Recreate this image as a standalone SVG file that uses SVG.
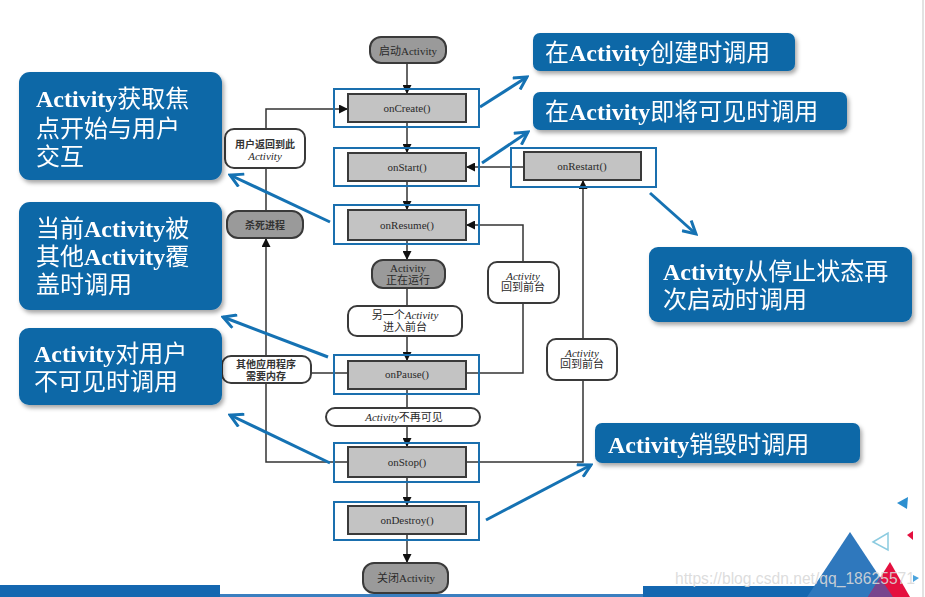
<svg xmlns="http://www.w3.org/2000/svg" width="925" height="597" viewBox="0 0 925 597">
<defs>
<style>
.t{font-family:"Liberation Serif","Noto Sans CJK SC",serif;font-size:11px;fill:#2a2a2a;text-anchor:middle}
.cn{font-family:"Noto Sans CJK SC","Liberation Sans",sans-serif;font-weight:bold;font-size:10px;fill:#333;text-anchor:middle}
.it{font-family:"Liberation Serif",serif;font-style:italic;font-weight:normal}
.box{fill:#c3c3c3;stroke:#3a3a3a;stroke-width:2}
.pill{fill:#9a9a9a;stroke:#3a3a3a;stroke-width:2}
.wbox{fill:#fff;stroke:#3a3a3a;stroke-width:2}
.hl{fill:none;stroke:#1a6fae;stroke-width:2}
.con{fill:none;stroke:#333;stroke-width:1.5}
.bl{fill:none;stroke:#1572b3;stroke-width:3}
.call{fill:#0d67a7}
.ct{font-family:"Noto Sans CJK SC","Liberation Sans",sans-serif;font-size:24px;fill:#fff}
.ca{font-family:"Liberation Serif",serif;font-weight:bold}
</style>
<marker id="ka" viewBox="0 0 10 10" refX="10" refY="5" markerWidth="9" markerHeight="9" markerUnits="userSpaceOnUse" orient="auto">
<path d="M0,0 L10,5 L0,10 Z" fill="#111"/>
</marker>
<marker id="ba" viewBox="0 0 14 14" refX="12" refY="7" markerWidth="16" markerHeight="16" markerUnits="userSpaceOnUse" orient="auto">
<path d="M1,1 L12,7 L1,13" fill="none" stroke="#1572b3" stroke-width="2.6"/>
</marker>
<filter id="sh" x="-10%" y="-20%" width="125%" height="150%">
<feDropShadow dx="2" dy="3" stdDeviation="2" flood-color="#000" flood-opacity="0.35"/>
</filter>
</defs>
<rect width="925" height="597" fill="#fff"/>
<line x1="923" y1="0" x2="923" y2="597" stroke="#d8d8d8" stroke-width="1.5"/>

<g id="connectors">
<path class="con" d="M407,63 V94" marker-end="url(#ka)"/>
<path class="con" d="M407,122 V153" marker-end="url(#ka)"/>
<path class="con" d="M407,181 V210" marker-end="url(#ka)"/>
<path class="con" d="M407,240 V260" marker-end="url(#ka)"/>
<path class="con" d="M407,288 V306"/>
<path class="con" d="M407,336 V361" marker-end="url(#ka)"/>
<path class="con" d="M407,389 V408"/>
<path class="con" d="M407,426 V447" marker-end="url(#ka)"/>
<path class="con" d="M407,477 V506" marker-end="url(#ka)"/>
<path class="con" d="M407,534 V563" marker-end="url(#ka)"/>
<path class="con" d="M266,129 V109 H348" marker-end="url(#ka)"/>
<path class="con" d="M266,211 V168"/>
<path class="con" d="M266,356 V238" marker-end="url(#ka)"/>
<path class="con" d="M348,462 H266 V383"/>
<path class="con" d="M348,373 H311"/>
<path class="con" d="M466,373 H523 V225 H466" marker-end="url(#ka)"/>
<path class="con" d="M466,462 H583 V180" marker-end="url(#ka)"/>
<path class="con" d="M524,167 H466" marker-end="url(#ka)"/>
<path class="bl" d="M480,107 L527,77" marker-end="url(#ba)"/>
<path class="bl" d="M482,163 L528,132" marker-end="url(#ba)"/>
<path class="bl" d="M650,193 L696,234" marker-end="url(#ba)"/>
<path class="bl" d="M330,222 L230,175" marker-end="url(#ba)"/>
<path class="bl" d="M328,357 L223,317" marker-end="url(#ba)"/>
<path class="bl" d="M330,463 L230,415" marker-end="url(#ba)"/>
<path class="bl" d="M486,520 L591,465" marker-end="url(#ba)"/>
</g>

<g id="start"><rect class="pill" x="370" y="37" width="76" height="26" rx="11"/><text class="t" x="408" y="55">启动Activity</text></g>
<g id="onCreate"><rect class="hl" x="334" y="89" width="145" height="38"/><rect class="box" x="348" y="94" width="118" height="28"/><text class="t" x="407" y="112">onCreate()</text></g>
<g id="onStart"><rect class="hl" x="334" y="148" width="145" height="38"/><rect class="box" x="348" y="153" width="118" height="28"/><text class="t" x="407" y="171">onStart()</text></g>
<g id="onResume"><rect class="hl" x="334" y="205" width="145" height="39"/><rect class="box" x="348" y="210" width="118" height="30"/><text class="t" x="407" y="229">onResume()</text></g>
<g id="running"><rect class="pill" x="372" y="260" width="73" height="28" rx="11"/><text class="t" x="408" y="272">Activity<tspan x="408" dy="12">正在运行</tspan></text></g>
<g id="another"><rect class="wbox" x="348" y="306" width="114" height="30" rx="9"/><text class="t" x="405" y="319">另一个<tspan class="it">Activity</tspan><tspan x="405" dy="12">进入前台</tspan></text></g>
<g id="onPause"><rect class="hl" x="334" y="355" width="145" height="39"/><rect class="box" x="348" y="361" width="118" height="28"/><text class="t" x="407" y="378">onPause()</text></g>
<g id="invisible"><rect class="wbox" x="326" y="408" width="154" height="18" rx="9"/><text class="t" x="404" y="421"><tspan class="it">Activity</tspan>不再可见</text></g>
<g id="onStop"><rect class="hl" x="334" y="443" width="145" height="39"/><rect class="box" x="348" y="447" width="118" height="30"/><text class="t" x="407" y="466">onStop()</text></g>
<g id="onDestroy"><rect class="hl" x="334" y="502" width="145" height="38"/><rect class="box" x="348" y="506" width="118" height="28"/><text class="t" x="407" y="524">onDestroy()</text></g>
<g id="close"><rect class="pill" x="363" y="563" width="85" height="30" rx="11"/><text class="t" x="406" y="582">关闭Activity</text></g>
<g id="onRestart"><rect class="hl" x="511" y="148" width="145" height="39"/><rect class="box" x="524" y="152" width="117" height="28"/><text class="t" x="582" y="170">onRestart()</text></g>
<g id="userBack"><rect class="wbox" x="225" y="129" width="80" height="39" rx="9"/><text class="cn" x="265" y="148">用户返回到此<tspan class="t it" x="265" dy="12">Activity</tspan></text></g>
<g id="kill"><rect class="pill" x="227" y="211" width="76" height="27" rx="11"/><text class="cn" x="265" y="229">杀死进程</text></g>
<g id="otherApp"><rect class="wbox" x="222" y="356" width="89" height="27" rx="9"/><text class="cn" x="266" y="368">其他应用程序<tspan x="266" dy="12">需要内存</tspan></text></g>
<g id="back1"><rect class="wbox" x="488" y="262" width="71" height="41" rx="9"/><text class="t" x="523" y="280"><tspan class="it">Activity</tspan><tspan x="523" dy="11">回到前台</tspan></text></g>
<g id="back2"><rect class="wbox" x="547" y="339" width="70" height="41" rx="9"/><text class="t" x="582" y="357"><tspan class="it">Activity</tspan><tspan x="582" dy="11">回到前台</tspan></text></g>

<g id="callCreate" filter="url(#sh)"><rect class="call" x="533" y="33" width="262" height="38" rx="7"/><text class="ct" x="545" y="61">在<tspan class="ca">Activity</tspan>创建时调用</text></g>
<g id="callStart" filter="url(#sh)"><rect class="call" x="533" y="92" width="314" height="38" rx="7"/><text class="ct" x="545" y="120">在<tspan class="ca">Activity</tspan>即将可见时调用</text></g>
<g id="callRestart" filter="url(#sh)"><rect class="call" x="649" y="247" width="263" height="75" rx="9"/><text class="ct" x="663" y="280"><tspan class="ca">Activity</tspan>从停止状态再<tspan x="663" dy="28">次启动时调用</tspan></text></g>
<g id="callResume" filter="url(#sh)"><rect class="call" x="19" y="72" width="203" height="108" rx="11"/><text class="ct" x="36" y="107"><tspan class="ca">Activity</tspan>获取焦<tspan x="36" dy="30">点开始与用户</tspan><tspan x="36" dy="28">交互</tspan></text></g>
<g id="callPause" filter="url(#sh)"><rect class="call" x="19" y="202" width="203" height="108" rx="11"/><text class="ct" x="36" y="237">当前<tspan class="ca">Activity</tspan>被<tspan x="36" dy="28">其他</tspan><tspan class="ca">Activity</tspan>覆<tspan x="36" dy="28">盖时调用</tspan></text></g>
<g id="callStop" filter="url(#sh)"><rect class="call" x="19" y="328" width="203" height="77" rx="10"/><text class="ct" x="34" y="362"><tspan class="ca">Activity</tspan>对用户<tspan x="34" dy="28">不可见时调用</tspan></text></g>
<g id="callDestroy" filter="url(#sh)"><rect class="call" x="595" y="423" width="265" height="40" rx="7"/><text class="ct" x="608" y="453"><tspan class="ca">Activity</tspan>销毁时调用</text></g>

<g id="decor">
<rect x="0" y="585" width="220" height="12" fill="#1467b0"/>
<rect x="220" y="594" width="430" height="3" fill="#3b7fc0"/>
<rect x="643" y="586" width="260" height="11" fill="#1467b0"/>
<polygon points="850,532 807,597 893,597" fill="#2f78bd"/>
<polygon points="890,562 868,597 910,597" fill="#e4103f"/>
<polygon points="880,578 868,597 893,597 885,585" fill="#6a4b96" opacity="0.9"/>
<polygon points="897,503 908,497 907,509" fill="#2c8fd0"/>
<polygon points="873,542 888,533 888,550" fill="none" stroke="#8ccbe0" stroke-width="1.5"/>
<polygon points="907,535 913,531 913,540" fill="#e4103f"/>
<polygon points="913,575 913,582 919,578" fill="#4aa3dd"/>
<text x="675" y="584" font-family="Liberation Sans,Arial,sans-serif" font-size="17" fill="#d9d9d9" fill-opacity="0.9" textLength="240" lengthAdjust="spacingAndGlyphs">https://blog.csdn.net/qq_18625571</text>
</g>
</svg>
